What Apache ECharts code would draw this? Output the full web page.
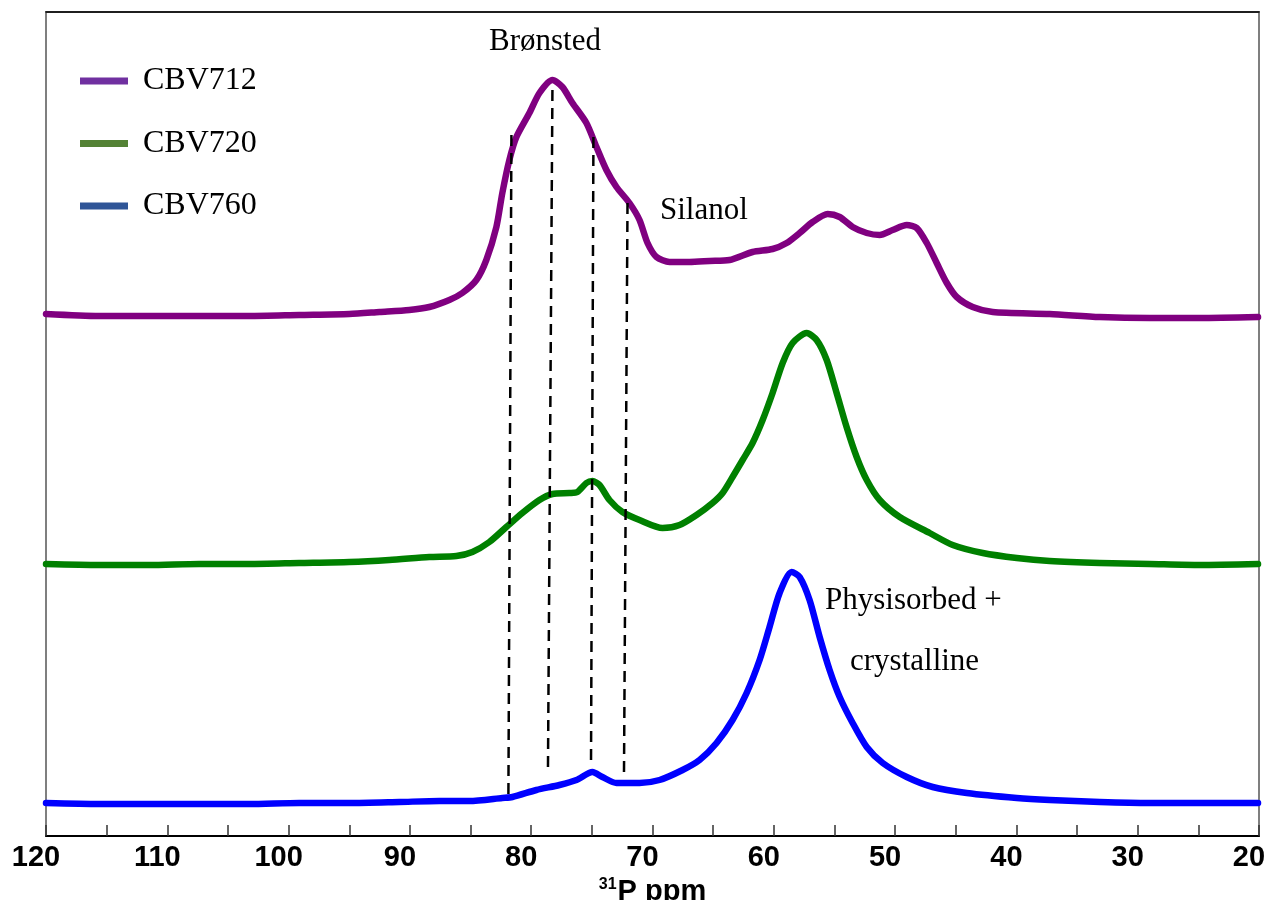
<!DOCTYPE html>
<html>
<head>
<meta charset="utf-8">
<title>31P MAS NMR spectra</title>
<script src="https://cdn.jsdelivr.net/npm/echarts@6/dist/echarts.min.js"></script>
<style>
  html, body { margin: 0; padding: 0; background: #fff; }
  #chart { width: 1267px; height: 900px; }
</style>
</head>
<body>
<div id="chart"></div>
<script>
// Chemical shift axis (ppm) and tick labels
const xTickLabels = [120, 110, 100, 90, 80, 70, 60, 50, 40, 30, 20];

// CBV712 spectrum: chemical shift (ppm) and intensity above its own baseline
const ppm712 = [120, 115.63, 111.5, 107.38, 103.25, 99.13, 95.0, 92.5, 90.05, 88.4, 86.75, 85.68, 84.52, 83.7, 82.87, 82.38, 81.8, 81.22, 80.15, 79.32, 78.25, 77.43, 76.6, 75.45, 74.62, 73.8, 72.97, 71.9, 71.07, 70.41, 69.67, 68.6, 66.95, 65.3, 63.65, 61.75, 60.1, 58.94, 57.87, 56.8, 55.56, 54.57, 53.5, 52.34, 51.27, 50.2, 49.04, 48.22, 47.39, 46.57, 45.74, 44.92, 43.6, 41.95, 37.25, 33.12, 29.0, 24.87, 20.08];
const int712 = [2, 0, 0, 0, 0, 1, 2, 4, 6, 9, 16, 23, 36, 56, 89, 123, 156, 179, 203, 223, 236, 229, 213, 193, 169, 146, 129, 113, 96, 73, 59, 54, 54, 55, 56, 64, 67, 73, 83, 94, 102, 99, 89, 83, 81, 86, 91, 88, 73, 53, 33, 19, 9, 4, 2, -1, -2, -2, -1];

// CBV720 spectrum
const ppm720 = [120, 115.63, 111.5, 107.38, 103.25, 99.13, 95.0, 91.7, 88.4, 86.17, 84.85, 83.45, 82.05, 80.73, 79.32, 78.25, 76.85, 76.19, 75.45, 74.95, 74.37, 73.55, 72.48, 71.07, 69.17, 67.77, 66.37, 65.05, 64.22, 63.4, 62.57, 61.75, 60.92, 60.1, 59.27, 58.45, 57.29, 56.47, 55.64, 54.82, 54.0, 53.17, 52.34, 51.27, 49.62, 47.15, 45.25, 42.77, 39.97, 37.25, 33.12, 29.0, 24.87, 20.08];
const int720 = [0, -1, -1, 0, 0, 1, 2, 4, 7, 8, 12, 22, 37, 51, 64, 70, 71, 72, 81, 83, 79, 64, 52, 44, 36, 39, 49, 61, 71, 87, 104, 121, 144, 171, 201, 221, 231, 224, 204, 171, 137, 107, 84, 64, 47, 31, 19, 11, 6, 3, 1, 0, -1, 0];

// CBV760 spectrum
const ppm760 = [120, 115.63, 111.5, 107.38, 103.25, 99.13, 95.0, 90.87, 87.57, 85.1, 82.38, 81.55, 79.57, 77.67, 76.27, 74.95, 74.13, 72.97, 71.07, 69.42, 67.52, 66.12, 64.72, 63.4, 62.24, 61.17, 60.35, 59.52, 58.53, 57.87, 57.05, 56.22, 55.4, 54.57, 53.5, 52.34, 51.02, 49.04, 46.9, 44.09, 39.97, 37.25, 33.12, 29.0, 24.87, 20.08];
const int760 = [1, 0, 0, 0, 0, 1, 1, 2, 3, 3, 6, 7, 14, 19, 24, 32, 27, 21, 21, 24, 34, 44, 61, 84, 111, 144, 177, 211, 232, 227, 204, 167, 134, 107, 81, 57, 41, 27, 17, 11, 6, 4, 2, 1, 1, 1];

// Vertical stacking offsets of the three spectra
const stackOffsets = { CBV712: 520, CBV720: 272, CBV760: 32 };

// Dashed guide lines marking the Brønsted / silanol components (top and bottom ends)
const guidePpmTop = [81.63, 78.25, 74.87, 72.06];
const guidePpmBottom = [81.88, 78.62, 75.07, 72.35];
const guideTop = [701, 746, 699, 633];
const guideBottom = [39, 63, 69, 63];

const seriesColors = { CBV712: '#800080', CBV720: '#008000', CBV760: '#0000FF' };
const legendColors = { CBV712: '#7030A0', CBV720: '#548235', CBV760: '#2F5597' };

function pairs(xs, ys, offset) {
  return xs.map((x, i) => [x, ys[i] + offset]);
}

const spectra = [
  { name: 'CBV712', x: ppm712, y: int712 },
  { name: 'CBV720', x: ppm720, y: int720 },
  { name: 'CBV760', x: ppm760, y: int760 }
];

const series = spectra.map(s => ({
  name: s.name,
  type: 'line',
  data: pairs(s.x, s.y, stackOffsets[s.name]),
  showSymbol: false,
  smooth: 0.25,
  lineStyle: { color: seriesColors[s.name], width: 6.5, cap: 'round', join: 'round' },
  itemStyle: { color: seriesColors[s.name] },
  z: 2,
  silent: true
}));

guidePpmTop.forEach((p, i) => {
  series.push({
    name: 'guide' + i,
    type: 'line',
    data: [[p, guideTop[i]], [guidePpmBottom[i], guideBottom[i]]],
    showSymbol: false,
    lineStyle: { color: '#000', width: 2.5, type: [11, 7] },
    z: 5,
    silent: true
  });
});

const serif = '"Liberation Serif", "Times New Roman", serif';
const sans = '"Liberation Sans", Arial, sans-serif';

const chart = echarts.init(document.getElementById('chart'), null, { renderer: 'canvas' });

chart.setOption({
  animation: false,
  backgroundColor: '#fff',
  grid: {
    left: 46, right: 8, top: 12, bottom: 64,
    containLabel: false,
    outerBoundsMode: 'none',
    show: true, borderColor: '#7f7f7f', borderWidth: 2
  },
  legend: {
    orient: 'vertical',
    left: 80,
    top: 65,
    padding: 0,
    itemWidth: 48,
    itemHeight: 7,
    itemGap: 30.5,
    icon: 'rect',
    selectedMode: false,
    textStyle: {
      fontFamily: serif, fontSize: 32, color: '#000',
      lineHeight: 30, padding: [0, 0, 0, 10]
    },
    data: spectra.map(s => ({
      name: s.name,
      itemStyle: { color: legendColors[s.name] }
    }))
  },
  xAxis: [
    {
      type: 'value',
      inverse: true,
      min: 20,
      max: 120,
      interval: 5,
      position: 'bottom',
      splitLine: { show: false },
      axisLine: { show: true, onZero: false, lineStyle: { color: '#000', width: 2 } },
      axisTick: { show: true, inside: true, length: 11, lineStyle: { color: '#333', width: 1.5 } },
      axisLabel: {
        showMinLabel: true, showMaxLabel: true,
        margin: 7,
        fontFamily: sans, fontWeight: 'bold', fontSize: 29, color: '#000',
        padding: [0, 20, 0, 0],
        formatter: v => (xTickLabels.indexOf(v) >= 0 ? String(v) : '')
      },
      name: '{sup|31}{main|P ppm}',
      nameLocation: 'middle',
      nameGap: 41,
      nameTextStyle: {
        rich: {
          sup: { fontFamily: sans, fontWeight: 'bold', fontSize: 16, color: '#000', verticalAlign: 'top', padding: [0, 1, 0, 0] },
          main: { fontFamily: sans, fontWeight: 'bold', fontSize: 29, color: '#000' }
        }
      }
    },
    {
      type: 'value',
      inverse: true,
      min: 20,
      max: 120,
      position: 'top',
      axisLine: { show: true, onZero: false, lineStyle: { color: '#000', width: 1.5 } },
      axisTick: { show: false },
      axisLabel: { show: false },
      splitLine: { show: false }
    }
  ],
  yAxis: {
    type: 'value',
    min: 0,
    max: 824,
    show: false
  },
  series: series,
  graphic: [
    { type: 'text', left: 489, top: 26, style: { text: 'Brønsted', font: '31px ' + serif, fill: '#000' } },
    { type: 'text', left: 660, top: 195, style: { text: 'Silanol', font: '31px ' + serif, fill: '#000' } },
    { type: 'text', left: 825, top: 585, style: { text: 'Physisorbed +', font: '31px ' + serif, fill: '#000' } },
    { type: 'text', left: 850, top: 646, style: { text: 'crystalline', font: '31px ' + serif, fill: '#000' } }
  ]
});
</script>
</body>
</html>
